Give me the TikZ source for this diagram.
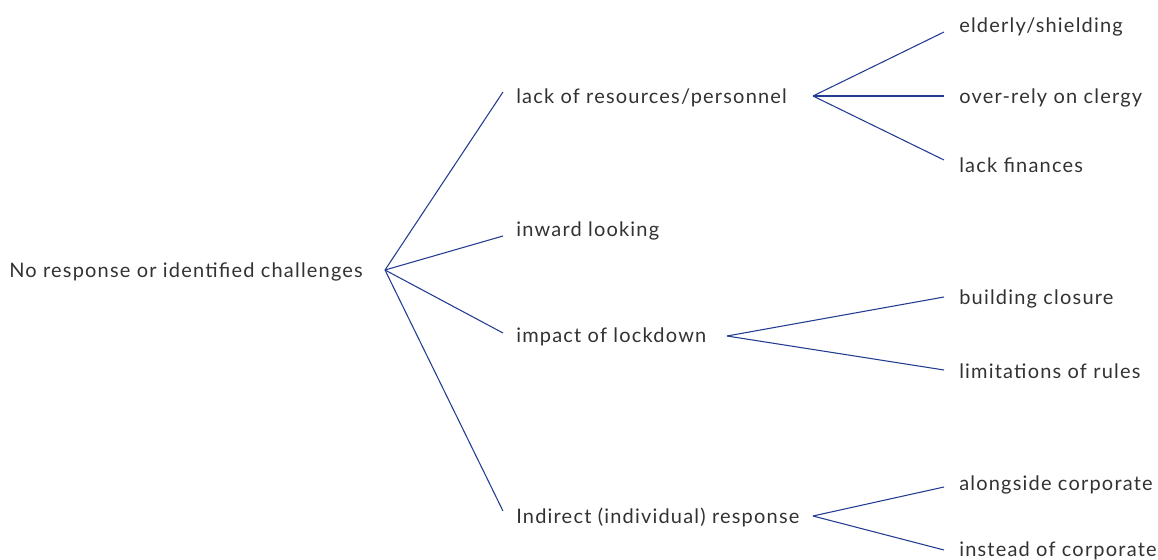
\documentclass[tikz,border=0pt]{standalone}
\usepackage{fontspec}
\setmainfont{Lato}[LetterSpace=6]
\usetikzlibrary{positioning}
\definecolor{branch}{RGB}{35,60,145}
\definecolor{txt}{RGB}{50,50,50}

\begin{document}
\begin{tikzpicture} [x = 0.75pt, y = -0.75pt, label/.style = {anchor = west, inner sep = 0pt, text = txt, font = \fontsize{15}{17}\selectfont}, link/.style = {draw = branch, line width = 0.8pt}]
    \useasboundingbox (0,0) rectangle (1158,560);

    \node (root) [label] at (9,272) {No response or identified challenges};
    \coordinate (j0) at (385,270);

    \node (lack) [label] at (516,98) {lack of resources/personnel};
    \node (inward) [label] at (516,231) {inward looking};
    \node (impact) [label] at (516,337) {impact of lockdown};
    \node (indirect) [label] at (516,517) {Indirect (individual) response};

    \coordinate (lack-in) at (503,92);
    \coordinate (inward-in) at (503,236);
    \coordinate (impact-in) at (503,333);
    \coordinate (indirect-in) at (503,511);

    \coordinate (j1) at (813,96);
    \coordinate (j2) at (727,336);
    \coordinate (j3) at (813,516);

    \node (elderly) [label] at (959,27) {elderly/shielding};
    \node (clergy) [label] at (959,98) {over-rely on clergy};
    \node (finances) [label] at (959,165) {lack finances};
    \node (closure) [label] at (959,299) {building closure};
    \node (rules) [label] at (959,371) {limitations of rules};
    \node (alongside) [label] at (959,485) {alongside corporate};
    \node (instead) [label] at (959,551) {instead of corporate};

    \coordinate (elderly-in) at (944,32);
    \coordinate (clergy-in) at (944,96);
    \coordinate (finances-in) at (944,160);
    \coordinate (closure-in) at (944,297);
    \coordinate (rules-in) at (944,370);
    \coordinate (alongside-in) at (944,487);
    \coordinate (instead-in) at (944,550);

    \path [link] (j0) edge (lack-in) edge (inward-in) edge (impact-in) edge (indirect-in);
    \path [link] (j1) edge (elderly-in) edge (clergy-in) edge (finances-in);
    \path [link] (j2) edge (closure-in) edge (rules-in);
    \path [link] (j3) edge (alongside-in) edge (instead-in);

\end{tikzpicture}
\end{document}
